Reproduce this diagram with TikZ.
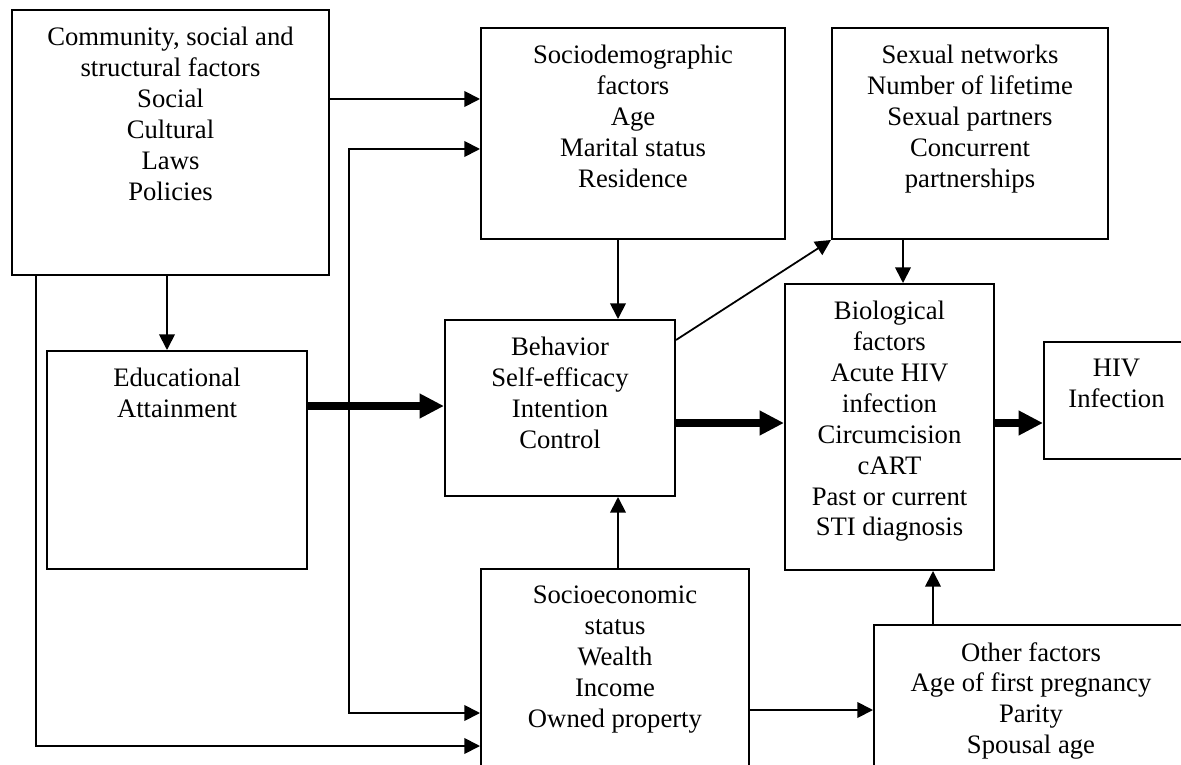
\documentclass[tikz,border=0pt]{standalone}
\usepackage{fontspec}
\setmainfont{Liberation Serif}
\usetikzlibrary{arrows.meta, calc, positioning}

\begin{document}
\begin{tikzpicture}[
    x=0.45pt, y=-0.45pt,
    factor/.style={draw, line width=0.9pt, anchor=north west, inner sep=0pt},
    size/.style 2 args={minimum width=#1*0.45pt, minimum height=#2*0.45pt},
    txt/.style={anchor=north, yshift=-8pt, inner sep=0pt, align=center, font=\fontsize{12}{13.9}\selectfont},
    link/.style={line width=0.8pt, -{Triangle[length=7pt, width=7pt]}},
    mainlink/.style={line width=3.6pt, -{Triangle[length=11pt, width=10.5pt]}}
]
\useasboundingbox (0,0) rectangle (1181,765);
\clip (0,0) rectangle (1181,765);

\node[factor, size={317}{265}, label={[txt]90:{Community, social and\\structural factors\\Social\\Cultural\\Laws\\Policies}}] (comm) at (11,9) {};
\node[factor, size={304}{211}, label={[txt]90:{Sociodemographic\\factors\\Age\\Marital status\\Residence}}] (sdem) at (480,27) {};
\node[factor, size={276}{211}, label={[txt]90:{Sexual networks\\Number of lifetime\\Sexual partners\\Concurrent\\partnerships}}] (sexnet) at (831,27) {};
\node[factor, size={260}{218}, label={[txt]90:{Educational\\Attainment}}] (edu) at (46,350) {};
\node[factor, size={230}{176}, label={[txt]90:{Behavior\\Self-efficacy\\Intention\\Control}}] (behav) at (444,319) {};
\node[factor, size={209}{286}, label={[txt]90:{Biological\\factors\\Acute HIV\\infection\\Circumcision\\cART\\Past or current\\STI diagnosis}}] (bio) at (784,283) {};
\node[factor, size={145}{117}, label={[txt]90:{HIV\\Infection}}] (hiv) at (1043,341) {};
\node[factor, size={268}{250}, label={[txt]90:{Socioeconomic\\status\\Wealth\\Income\\Owned property}}] (secon) at (480,568) {};
\node[factor, size={314}{200}, label={[txt]90:{Other factors\\Age of first pregnancy\\Parity\\Spousal age}}] (other) at (873,624) {};

% thick main path
\draw[mainlink] ($(edu.north east)+(0,56)$) coordinate (e1) -- (e1 -| behav.west);
\draw[mainlink] ($(behav.north east)+(0,104)$) coordinate (b1) -- (b1 -| bio.west);
\draw[mainlink] ($(bio.north east)+(0,140)$) coordinate (h1) -- (h1 -| hiv.west);

% thin links
\draw[link] ($(comm.north east)+(0,90)$) coordinate (c1) -- (c1 -| sdem.west);
\draw[link] ($(comm.south west)+(156,0)$) coordinate (c2) -- (c2 |- edu.north);
\draw[link] ($(comm.south west)+(25,0)$) |- ($(secon.north west)+(0,178)$);
\coordinate (split) at ($(edu.north east)+(41,56)$);
\draw[link] (split) |- ($(sdem.north west)+(0,122)$);
\draw[link] (split) |- ($(secon.north west)+(0,145)$);
\draw[link] ($(sdem.south west)+(138,0)$) coordinate (s1) -- (s1 |- behav.north);
\draw[link] ($(behav.north east)+(0,21)$) -- (sexnet.south west);
\draw[link] ($(sexnet.south west)+(72,0)$) coordinate (n1) -- (n1 |- bio.north);
\draw[link] ($(secon.north west)+(138,0)$) coordinate (w1) -- (w1 |- behav.south);
\draw[link] ($(secon.north east)+(0,142)$) coordinate (w2) -- (w2 -| other.west);
\draw[link] ($(other.north west)+(60,0)$) coordinate (o1) -- (o1 |- bio.south);
\end{tikzpicture}
\end{document}
